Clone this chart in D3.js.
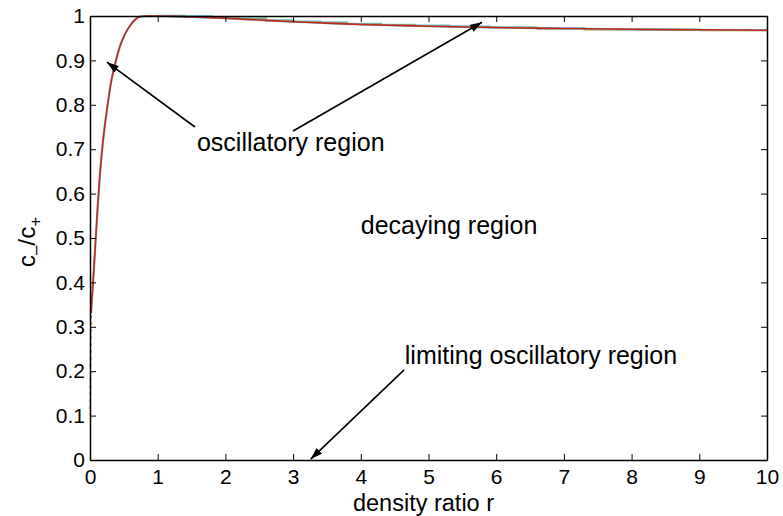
<!DOCTYPE html>
<html>
<head>
<meta charset="utf-8">
<script src="https://cdn.jsdelivr.net/npm/d3@7/dist/d3.min.js"></script>
<style>
  html, body { margin: 0; padding: 0; background: #fff; }
  svg { display: block; font-family: "Liberation Sans", Arial, Helvetica, sans-serif; }
</style>
</head>
<body>
<svg id="chart" width="783" height="516"></svg>
<script>
// Concentration ratio c-/c+ against density ratio r
const densityRatio = [0.015, 0.045, 0.085, 0.115, 0.15, 0.19, 0.225, 0.27, 0.31, 0.36, 0.41, 0.45, 0.52, 0.6, 0.675, 0.75, 0.85, 1, 1.5, 2, 2.5, 3, 3.5, 4, 5, 6, 7, 8, 9, 10];
const ratioValues  = [0.331, 0.40, 0.50, 0.575, 0.65, 0.715, 0.76, 0.81, 0.85, 0.885, 0.915, 0.935, 0.960, 0.980, 0.993, 0.999, 1.0, 1.0, 0.998, 0.995, 0.991, 0.987, 0.984, 0.981, 0.977, 0.974, 0.972, 0.970, 0.969, 0.968];

// Sparse dotted tail of the curve approaching r = 0
const tailRatio  = [0.003, 0.006, 0.009, 0.012, 0.015];
const tailValues = [0.1, 0.17, 0.23, 0.28, 0.331];

// Companion solutions computed on coarser grids (drawn underneath)
const coarseRatio  = [1, 1.4, 1.8, 2.2, 2.6, 3.0, 3.4, 3.8, 4.3, 4.8, 5.3, 5.9, 6.6, 7.3, 8.1, 9.0, 10];
const coarseValues = [1.0, 0.999, 0.997, 0.994, 0.990, 0.987, 0.985, 0.982, 0.980, 0.978, 0.976, 0.974, 0.972, 0.970, 0.969, 0.968, 0.967];

const xTicks = [0, 1, 2, 3, 4, 5, 6, 7, 8, 9, 10];
const yTicks = [0, 0.1, 0.2, 0.3, 0.4, 0.5, 0.6, 0.7, 0.8, 0.9, 1];

const annotations = [
  { text: "oscillatory region", x: 1.58, y: 0.696 },
  { text: "decaying region", x: 4.0, y: 0.509 },
  { text: "limiting oscillatory region", x: 4.65, y: 0.216 }
];
const arrows = [
  { from: [1.55, 0.75], to: [0.25, 0.896] },
  { from: [3.0, 0.741], to: [5.79, 0.986] },
  { from: [4.64, 0.203], to: [3.26, 0.002] }
];

const svg = d3.select("#chart");
const mLeft = 90, mRight = 767, mTop = 16, mBottom = 460;

const x = d3.scaleLinear().domain([0, 10]).range([mLeft, mRight]);
const y = d3.scaleLinear().domain([0, 1]).range([mBottom, mTop]);

const line = d3.line().x(d => x(d[0])).y(d => y(d[1]));
const smooth = d3.line().x(d => x(d[0])).y(d => y(d[1])).curve(d3.curveMonotoneX);
const step = d3.line().x(d => x(d[0])).y(d => y(d[1])).curve(d3.curveStepAfter);

const plot = svg.append("g");

// coarse companion curves
const coarse = d3.zip(coarseRatio, coarseValues);
[["#7fb3e0", 0], ["#5fc9c9", 0.0008], ["#9a9a3a", -0.0006]].forEach(([c, off]) => {
  plot.append("path")
    .datum(coarse.map(d => [d[0], d[1] + off]))
    .attr("d", step)
    .attr("fill", "none").attr("stroke", c).attr("stroke-width", 1.6);
});
plot.append("path")
  .datum(d3.zip(densityRatio, ratioValues))
  .attr("d", smooth)
  .attr("fill", "none").attr("stroke", "#7fb3e0").attr("stroke-width", 2.2);

// main curve
plot.append("path")
  .datum(d3.zip(densityRatio, ratioValues))
  .attr("d", smooth)
  .attr("fill", "none").attr("stroke", "#c42a10").attr("stroke-width", 1.6);
plot.append("path")
  .datum(d3.zip(tailRatio, tailValues))
  .attr("d", line)
  .attr("fill", "none").attr("stroke", "#c42a10").attr("stroke-width", 1.6)
  .attr("stroke-dasharray", "2,5");

// axes (inward ticks, boxed)
const tickLen = 6;
const fontTick = 21;
const xb = d3.axisBottom(x).tickValues(xTicks).tickSizeInner(-tickLen).tickSizeOuter(0).tickPadding(9).tickFormat(d3.format("d"));
const xt = d3.axisTop(x).tickValues(xTicks).tickSizeInner(-tickLen).tickSizeOuter(0).tickFormat("");
const yl = d3.axisLeft(y).tickValues(yTicks).tickSizeInner(-tickLen).tickSizeOuter(0).tickPadding(5).tickFormat(d => d === 0 || d === 1 ? d3.format("d")(d) : d3.format(".1f")(d));
const yr = d3.axisRight(y).tickValues(yTicks).tickSizeInner(-tickLen).tickSizeOuter(0).tickFormat("");

function style(g) {
  g.selectAll(".domain").attr("stroke", "#000").attr("stroke-width", 1.5);
  g.selectAll(".tick line").attr("stroke", "#000").attr("stroke-width", 1);
  g.selectAll(".tick text").attr("fill", "#000").attr("font-size", fontTick)
    .attr("font-family", "Liberation Sans, Arial, sans-serif");
}
svg.append("g").attr("transform", `translate(0,${mBottom})`).call(xb).call(style);
svg.append("g").attr("transform", `translate(0,${mTop})`).call(xt).call(style);
svg.append("g").attr("transform", `translate(${mLeft},0)`).call(yl).call(style);
svg.append("g").attr("transform", `translate(${mRight},0)`).call(yr).call(style);

// axis titles
svg.append("text")
  .attr("x", (mLeft + mRight) / 2 - 5).attr("y", 511)
  .attr("text-anchor", "middle").attr("font-size", 23.5).attr("fill", "#000")
  .text("density ratio r");

const yt = svg.append("text")
  .attr("transform", `translate(35,${(mTop + mBottom) / 2 + 4}) rotate(-90)`)
  .attr("text-anchor", "middle").attr("font-size", 24.5).attr("fill", "#000");
yt.append("tspan").text("c");
yt.append("tspan").attr("font-size", 17).attr("dy", 6).text("–");
yt.append("tspan").attr("dy", -6).text("/c");
yt.append("tspan").attr("font-size", 17).attr("dy", 6).text("+");

// annotations
svg.append("defs").append("marker")
  .attr("id", "head").attr("viewBox", "0 0 12 8").attr("refX", 12).attr("refY", 4)
  .attr("markerWidth", 12).attr("markerHeight", 8).attr("markerUnits", "userSpaceOnUse")
  .attr("orient", "auto")
  .append("path").attr("d", "M0,0 L12,4 L0,8 Z").attr("fill", "#000");

svg.selectAll(".arrow").data(arrows).join("line")
  .attr("class", "arrow")
  .attr("x1", d => x(d.from[0])).attr("y1", d => y(d.from[1]))
  .attr("x2", d => x(d.to[0])).attr("y2", d => y(d.to[1]))
  .attr("stroke", "#000").attr("stroke-width", 1.6)
  .attr("marker-end", "url(#head)");

svg.selectAll(".note").data(annotations).join("text")
  .attr("class", "note")
  .attr("x", d => x(d.x)).attr("y", d => y(d.y))
  .attr("font-size", 25).attr("fill", "#000")
  .text(d => d.text);
</script>
</body>
</html>
